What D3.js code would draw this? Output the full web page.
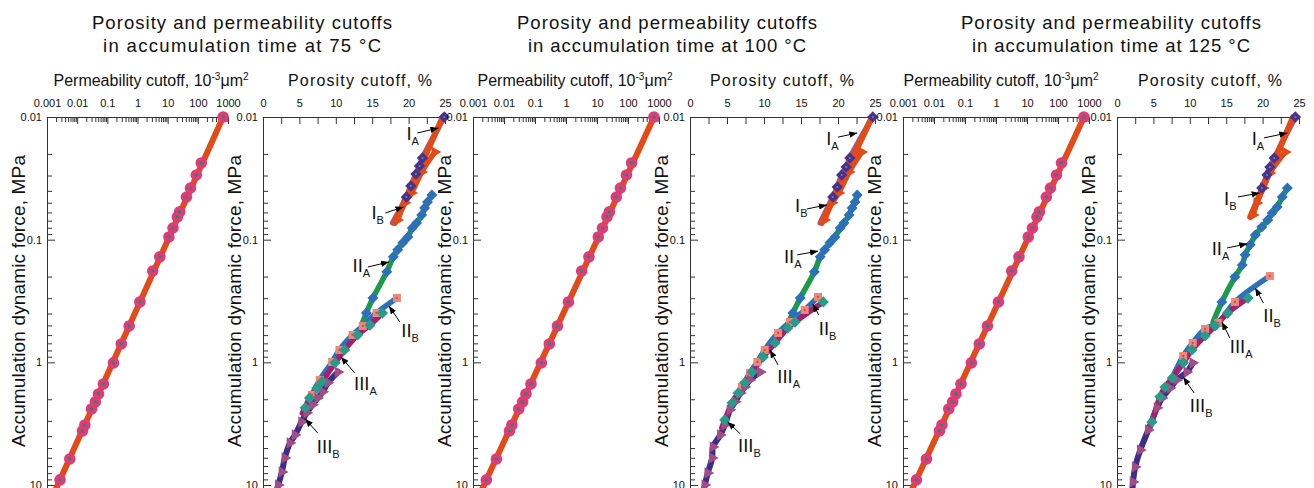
<!DOCTYPE html>
<html><head><meta charset="utf-8">
<script src="https://cdn.jsdelivr.net/npm/d3@7"></script>
<style>
body{margin:0;background:#fff;}
svg{display:block;}
text{font-family:"Liberation Sans",Arial,Helvetica,sans-serif;fill:#111;}
</style>
</head><body>
<svg id="c" width="1314" height="488"></svg>
<script>
// ---------------- DATA ----------------
const temps = ['75', '100', '125'];
const permTicks = [0.001, 0.01, 0.1, 1, 10, 100, 1000];
const permTickLabels = ['0.001', '0.01', '0.1', '1', '10', '100', '1000'];
const porTicks = [0, 5, 10, 15, 20, 25];
const porMinorTicks = [2.5, 7.5, 12.5, 17.5, 22.5];
const forceTicks = [0.01, 0.1, 1, 10];
const forceTickLabels = ['0.01', '0.1', '1', '10'];

// permeability cutoff (10^-3 um^2) vs accumulation dynamic force (MPa)
const permK = [686, 130, 89, 57, 42, 25, 21, 15, 11, 5.5, 3.2, 1.2, 0.53, 0.29, 0.16, 0.074, 0.051, 0.040, 0.030, 0.018, 0.015, 0.0057, 0.0027];
const permF = [0.01, 0.0237, 0.0297, 0.0379, 0.0449, 0.0594, 0.0653, 0.0803, 0.095, 0.138, 0.180, 0.322, 0.505, 0.708, 1.01, 1.50, 1.81, 2.10, 2.40, 3.24, 3.62, 6.13, 9.08];
const permFitK = [690, 0.0019];
const permFitF = [0.01, 11];

// porosity cutoff (%) vs force (MPa), [porosity, force]
// 75 °C
const IAfit75 = [[24.7, 0.010], [18.1, 0.073]];
const IA75 = [[23.6, 0.0193], [21.8, 0.0281], [20.4, 0.0416], [19.5, 0.050], [18.5, 0.069]];
const IB75 = [[24.9, 0.010], [21.9, 0.0216], [21.5, 0.0251], [21.0, 0.0292], [20.3, 0.0365], [19.7, 0.0449]];
const IBtail75 = [[17.8, 0.073]];
const IIA75 = [[23.2, 0.0432], [22.6, 0.0493], [22.2, 0.0552], [21.8, 0.0629], [21.1, 0.0731], [20.5, 0.0803], [19.9, 0.095], [19.2, 0.106], [18.5, 0.121], [17.9, 0.138], [17.0, 0.183], [15.1, 0.299], [14.2, 0.396]];
const IIAtail75 = [[13.6, 0.486]];
const IIB75 = [[18.4, 0.299], [15.6, 0.396], [13.7, 0.505], [12.3, 0.598], [10.5, 0.792], [9.5, 0.993], [7.8, 1.39], [6.7, 1.84]];
const IIBtail75 = [[5.6, 2.44]];
const IIIA75 = [[16.4, 0.396], [14.7, 0.496], [13.0, 0.598], [11.2, 0.792], [9.9, 1.01], [8.1, 1.44], [7.4, 1.62], [6.4, 1.95], [5.8, 2.35]];
const IIIAtail75 = [[5.4, 2.6]];
const IIIB75 = [[10.3, 1.20], [8.9, 1.47], [8.2, 1.74], [7.5, 1.95], [6.8, 2.22], [6.0, 2.58], [5.3, 3.06], [4.4, 3.91], [3.7, 4.54], [3.0, 6.01], [2.6, 7.82], [2.1, 9.98]];
const IIIBtail75 = [[1.8, 11.4]];
// 100 °C
const IAfit100 = [[24.6, 0.010], [17.8, 0.073]];
const IA100 = [[23.2, 0.0193], [21.5, 0.0281], [20.1, 0.0416], [19.2, 0.050], [18.2, 0.069]];
const IB100 = [[24.7, 0.010], [21.6, 0.0216], [21.1, 0.0256], [20.5, 0.0297], [19.9, 0.0372], [19.3, 0.0449]];
const IBtail100 = [[17.6, 0.073]];
const IIA100 = [[22.6, 0.0432], [22.3, 0.0493], [21.9, 0.0552], [21.5, 0.0629], [20.8, 0.0731], [20.3, 0.0803], [19.6, 0.095], [18.9, 0.106], [18.2, 0.121], [17.6, 0.138], [16.8, 0.183], [14.9, 0.299], [13.9, 0.396]];
const IIAtail100 = [[13.2, 0.486]];
const IIB100 = [[17.3, 0.293], [15.5, 0.374], [13.5, 0.469], [11.9, 0.576], [10.1, 0.792], [9.1, 0.993], [8.1, 1.22], [7.0, 1.59]];
const IIBtail100 = [[6.1, 2.03]];
const IIIA100 = [[18.0, 0.322], [14.2, 0.469], [13.2, 0.525], [11.5, 0.695], [9.9, 0.903], [8.4, 1.20], [7.4, 1.47], [6.5, 1.78], [5.7, 2.14], [4.7, 2.95]];
const IIIAtail100 = [[4.3, 3.43]];
const IIIB100 = [[9.5, 1.20], [8.1, 1.39], [7.4, 1.59], [6.8, 1.78], [6.1, 2.10], [5.4, 2.44], [4.7, 3.24], [4.1, 3.91], [3.1, 4.89], [3.0, 6.01], [2.4, 7.97], [2.0, 9.98]];
const IIIBtail100 = [[1.8, 11.4]];
// 125 °C
const IAfit125 = [[24.2, 0.010], [18.3, 0.0653]];
const IA125 = [[23.1, 0.0193], [21.0, 0.0286], [20.1, 0.0379], [19.2, 0.0502], [18.7, 0.0629]];
const IB125 = [[24.5, 0.010], [21.6, 0.0216], [21.0, 0.0256], [20.6, 0.0297], [19.9, 0.0379]];
const IBtail125 = [[18.7, 0.0606]];
const IIA125 = [[23.4, 0.0379], [22.7, 0.0449], [22.0, 0.0541], [21.3, 0.0606], [20.7, 0.0691], [19.9, 0.0787], [19.0, 0.0916], [18.3, 0.110], [17.6, 0.133], [17.2, 0.161], [16.2, 0.201], [14.4, 0.322]];
const IIAtail125 = [[13.2, 0.469]];
const IIB125 = [[21.0, 0.198], [16.2, 0.322], [13.9, 0.477], [12.1, 0.534], [10.4, 0.695], [9.1, 0.887]];
const IIBtail125 = [[7.6, 1.34]];
const IIIA125 = [[18.0, 0.299], [15.2, 0.396], [13.5, 0.505], [12.1, 0.609], [10.3, 0.792], [9.1, 1.01], [7.6, 1.34], [6.6, 1.59], [5.9, 1.91], [4.8, 3.06]];
const IIIAtail125 = [[4.5, 3.43]];
const IIIB125 = [[10.4, 1.01], [9.6, 1.20], [8.2, 1.39], [7.3, 1.62], [6.2, 1.95], [5.5, 2.35], [4.3, 3.56], [3.2, 5.18], [2.5, 7.12], [2.2, 9.44]];
const IIIBtail125 = [[2.1, 11.4]];

// class labels: text anchor, arrow start, arrow tip  ([porosity, force])
const labels75 = [
  {main: 'I', sub: 'A', at: [19.7, 0.0154], from: [21.2, 0.0135], to: [24.1, 0.0123]},
  {main: 'I', sub: 'B', at: [14.9, 0.0678], from: [16.8, 0.0606], to: [19.3, 0.0541]},
  {main: 'II', sub: 'A', at: [12.3, 0.183], from: [14.4, 0.167], to: [17.3, 0.152]},
  {main: 'II', sub: 'B', at: [19.0, 0.621], from: [18.8, 0.469], to: [17.3, 0.347]},
  {main: 'III', sub: 'A', at: [12.5, 1.68], from: [12.6, 1.22], to: [10.7, 0.903]},
  {main: 'III', sub: 'B', at: [7.4, 5.47], from: [7.5, 3.76], to: [5.8, 2.89]}
];
const labels100 = [
  {main: 'I', sub: 'A', at: [18.4, 0.0169], from: [20.0, 0.0146], to: [22.6, 0.0135]},
  {main: 'I', sub: 'B', at: [14.2, 0.0594], from: [15.8, 0.0562], to: [18.5, 0.0521]},
  {main: 'II', sub: 'A', at: [12.7, 0.155], from: [14.5, 0.133], to: [17.3, 0.124]},
  {main: 'II', sub: 'B', at: [17.4, 0.598], from: [17.4, 0.411], to: [16.6, 0.334]},
  {main: 'III', sub: 'A', at: [11.8, 1.47], from: [11.9, 1.05], to: [10.8, 0.792]},
  {main: 'III', sub: 'B', at: [6.5, 5.37], from: [6.8, 3.83], to: [5.1, 3.06]}
];
const labels125 = [
  {main: 'I', sub: 'A', at: [18.5, 0.0169], from: [20.2, 0.0148], to: [23.4, 0.0135]},
  {main: 'I', sub: 'B', at: [14.7, 0.0521], from: [16.6, 0.0449], to: [19.6, 0.0416]},
  {main: 'II', sub: 'A', at: [13.0, 0.133], from: [15.1, 0.117], to: [17.9, 0.108]},
  {main: 'II', sub: 'B', at: [20.1, 0.469], from: [20.1, 0.328], to: [19.0, 0.248]},
  {main: 'III', sub: 'A', at: [15.5, 0.838], from: [15.5, 0.632], to: [14.4, 0.469]},
  {main: 'III', sub: 'B', at: [10.0, 2.54], from: [10.6, 1.78], to: [9.1, 1.32]}
];

// ---------------- LAYOUT / STYLE ----------------
const C = {
  orange: '#e24a17', pink: '#e03a78', green: '#1e8c5c', mauve: '#a0559c', purple: '#4c2f8f',
  lineGreen: '#1a9a4a', blue: '#2b70b8', salmon: '#f08678', teal: '#2a9a8a', magenta: '#a3216f',
  indigo: '#3b2d8a', mauveTri: '#a24d86', axis: '#333'
};
const FONT = '"Liberation Sans",Arial,Helvetica,sans-serif';
const series = {
  '75': {IAfit: IAfit75, IA: IA75, IB: IB75, IBt: IBtail75, IIA: IIA75, IIAt: IIAtail75, IIB: IIB75, IIBt: IIBtail75, IIIA: IIIA75, IIIAt: IIIAtail75, IIIB: IIIB75, IIIBt: IIIBtail75, labels: labels75},
  '100': {IAfit: IAfit100, IA: IA100, IB: IB100, IBt: IBtail100, IIA: IIA100, IIAt: IIAtail100, IIB: IIB100, IIBt: IIBtail100, IIIA: IIIA100, IIIAt: IIIAtail100, IIIB: IIIB100, IIIBt: IIIBtail100, labels: labels100},
  '125': {IAfit: IAfit125, IA: IA125, IB: IB125, IBt: IBtail125, IIA: IIA125, IIAt: IIAtail125, IIB: IIB125, IIBt: IIBtail125, IIIA: IIIA125, IIIAt: IIIAtail125, IIIB: IIIB125, IIIBt: IIIBtail125, labels: labels125}
};
const layout = [
  {perm: [47, 228], por: [263, 445], title: 242, permTitle: 151, porTitle: 360},
  {perm: [473, 659], por: [690, 875], title: 667, permTitle: 575, porTitle: 782},
  {perm: [903, 1089], por: [1117, 1299], title: 1111, permTitle: 1001, porTitle: 1210}
];
const TOP = 117, BOT = 488;

const svg = d3.select('#c');
const defs = svg.append('defs');
defs.append('marker').attr('id', 'arr').attr('viewBox', '0 0 10 8').attr('refX', 10).attr('refY', 4)
  .attr('markerWidth', 8).attr('markerHeight', 6.4).attr('markerUnits', 'userSpaceOnUse').attr('orient', 'auto')
  .append('path').attr('d', 'M0,0 L10,4 L0,8 Z').attr('fill', '#000');

const yS = d3.scaleLog().domain([0.01, 10]).range([TOP, 485]);

const minorForce = [];
[0.01, 0.1, 1].forEach(b => { for (let i = 2; i <= 9; i++) minorForce.push(b * i); });
const minorPerm = [];
[0.001, 0.01, 0.1, 1, 10, 100].forEach(b => { for (let i = 2; i <= 9; i++) minorPerm.push(b * i); });

function styleAxis(g) {
  g.attr('font-family', FONT).attr('font-size', 11);
  g.selectAll('.domain').remove();
  g.selectAll('line').attr('stroke', C.axis).attr('stroke-width', 1);
  g.selectAll('text').attr('fill', '#111');
}

function drawYAxis(x0) {
  const g = svg.append('g').attr('transform', `translate(${x0},0)`);
  g.call(d3.axisLeft(yS).tickValues(forceTicks).tickFormat((d, i) => forceTickLabels[i]).tickSize(-8).tickSizeOuter(0).tickPadding(5));
  const gm = svg.append('g').attr('transform', `translate(${x0},0)`);
  gm.call(d3.axisLeft(yS).tickValues(minorForce).tickFormat('').tickSize(-5).tickSizeOuter(0));
  styleAxis(g); styleAxis(gm);
  svg.append('line').attr('x1', x0 + 0.5).attr('x2', x0 + 0.5).attr('y1', TOP).attr('y2', BOT).attr('stroke', C.axis);
  svg.append('text').attr('transform', `translate(${x0 - 22},301) rotate(-90)`).attr('text-anchor', 'middle')
    .attr('font-size', 19).attr('textLength', 292).attr('lengthAdjust', 'spacing').text('Accumulation dynamic force, MPa');
}

function drawXAxis(xs, ticks, labels, minor, minorLen) {
  const g = svg.append('g').attr('transform', `translate(0,${TOP})`);
  g.call(d3.axisTop(xs).tickValues(ticks).tickFormat((d, i) => labels[i]).tickSize(-7).tickSizeOuter(0).tickPadding(10));
  const gm = svg.append('g').attr('transform', `translate(0,${TOP})`);
  gm.call(d3.axisTop(xs).tickValues(minor).tickFormat('').tickSize(-minorLen).tickSizeOuter(0));
  styleAxis(g); styleAxis(gm);
  const r = xs.range();
  svg.append('line').attr('x1', r[0]).attr('x2', r[1]).attr('y1', TOP + 0.5).attr('y2', TOP + 0.5).attr('stroke', C.axis);
}

layout.forEach((L, ti) => {
  const T = temps[ti];
  // titles
  svg.append('text').attr('x', L.title).attr('y', 29).attr('text-anchor', 'middle').attr('font-size', 18.5)
    .attr('textLength', 300).attr('lengthAdjust', 'spacing').text('Porosity and permeability cutoffs');
  svg.append('text').attr('x', L.title).attr('y', 52).attr('text-anchor', 'middle').attr('font-size', 18.5)
    .attr('textLength', 278).attr('lengthAdjust', 'spacing').text(`in accumulation time at ${T} °C`);

  // ----- permeability panel -----
  const xp = d3.scaleLog().domain([0.001, 1000]).range(L.perm);
  const pt = svg.append('text').attr('x', L.permTitle).attr('y', 86).attr('text-anchor', 'middle').attr('font-size', 16);
  pt.append('tspan').text('Permeability cutoff, 10');
  pt.append('tspan').attr('font-size', 10).attr('dy', -6).text('-3');
  pt.append('tspan').attr('dy', 6).text('μm');
  pt.append('tspan').attr('font-size', 10).attr('dy', -6).text('2');
  drawXAxis(xp, permTicks, permTickLabels, minorPerm, 5);
  drawYAxis(L.perm[0]);
  const gP = svg.append('g');
  gP.append('path').datum(permFitK.map((k, i) => [k, permFitF[i]]))
    .attr('d', d3.line().x(d => xp(d[0])).y(d => yS(d[1])))
    .attr('stroke', C.orange).attr('stroke-width', 6).attr('fill', 'none');
  const pts = permK.map((k, i) => [k, permF[i]]);
  gP.selectAll('circle.m').data(pts).join('circle').attr('class', 'm')
    .attr('cx', d => xp(d[0])).attr('cy', d => yS(d[1])).attr('r', 5.8).attr('fill', C.pink);
  gP.selectAll('circle.c').data(pts).join('circle').attr('class', 'c')
    .attr('cx', d => xp(d[0])).attr('cy', d => yS(d[1])).attr('r', 1.6).attr('fill', C.green);

  // ----- porosity panel -----
  const xs = d3.scaleLinear().domain([0, 25]).range(L.por);
  svg.append('text').attr('x', L.porTitle).attr('y', 86).attr('text-anchor', 'middle').attr('font-size', 16)
    .attr('textLength', 144).attr('lengthAdjust', 'spacing').text('Porosity cutoff, %');
  drawXAxis(xs, porTicks, porTicks.map(String), porMinorTicks, 7);
  drawYAxis(L.por[0]);
  const S = series[T];
  const g = svg.append('g');
  const line = d3.line().x(d => xs(d[0])).y(d => yS(d[1])).curve(d3.curveCatmullRom.alpha(0.5));
  const path = (p, color, w) => g.append('path').attr('d', line(p)).attr('fill', 'none').attr('stroke', color)
    .attr('stroke-width', w).attr('stroke-linecap', 'round').attr('stroke-linejoin', 'round');
  path(S.IB.concat(S.IBt), C.mauve, 5.5);
  path(S.IAfit, C.orange, 6);
  path(S.IA, C.orange, 5.5);
  path(S.IIA.concat(S.IIAt), C.lineGreen, 5.5);
  path(S.IIB.concat(S.IIBt), C.blue, 5.5);
  path(S.IIIB.concat(S.IIIBt), C.indigo, 6);
  path(S.IIIA.concat(S.IIIAt), C.magenta, 5.5);

  const marks = (p, shape, size, fill, rot, dot) => {
    g.selectAll(null).data(p).join('path')
      .attr('transform', d => `translate(${xs(d[0])},${yS(d[1])}) rotate(${rot})`)
      .attr('d', d3.symbol().type(shape).size(size)()).attr('fill', fill);
    if (dot) g.selectAll(null).data(p).join('circle').attr('cx', d => xs(d[0])).attr('cy', d => yS(d[1]))
      .attr('r', 1.1).attr('fill', dot);
  };
  marks(S.IA, d3.symbolTriangle, 55, C.orange, 90, null);
  marks(S.IB, d3.symbolSquare, 64, C.purple, 45, '#3aa07a');
  marks(S.IIA, d3.symbolSquare, 60, C.blue, 45, null);
  marks(S.IIB, d3.symbolSquare, 64, C.salmon, 0, '#c0504a');
  marks(S.IIIB, d3.symbolTriangle, 55, C.mauveTri, 90, null);
  marks(S.IIIA, d3.symbolSquare, 64, C.teal, 45, null);

  // labels with arrows
  S.labels.forEach(lb => {
    const t = svg.append('text').attr('x', xs(lb.at[0])).attr('y', yS(lb.at[1])).attr('font-size', 18.5);
    t.append('tspan').text(lb.main);
    t.append('tspan').attr('font-size', 11).attr('dy', 5).text(lb.sub);
    svg.append('line').attr('x1', xs(lb.from[0])).attr('y1', yS(lb.from[1]))
      .attr('x2', xs(lb.to[0])).attr('y2', yS(lb.to[1]))
      .attr('stroke', '#000').attr('stroke-width', 1).attr('marker-end', 'url(#arr)');
  });
});
</script>
</body></html>
